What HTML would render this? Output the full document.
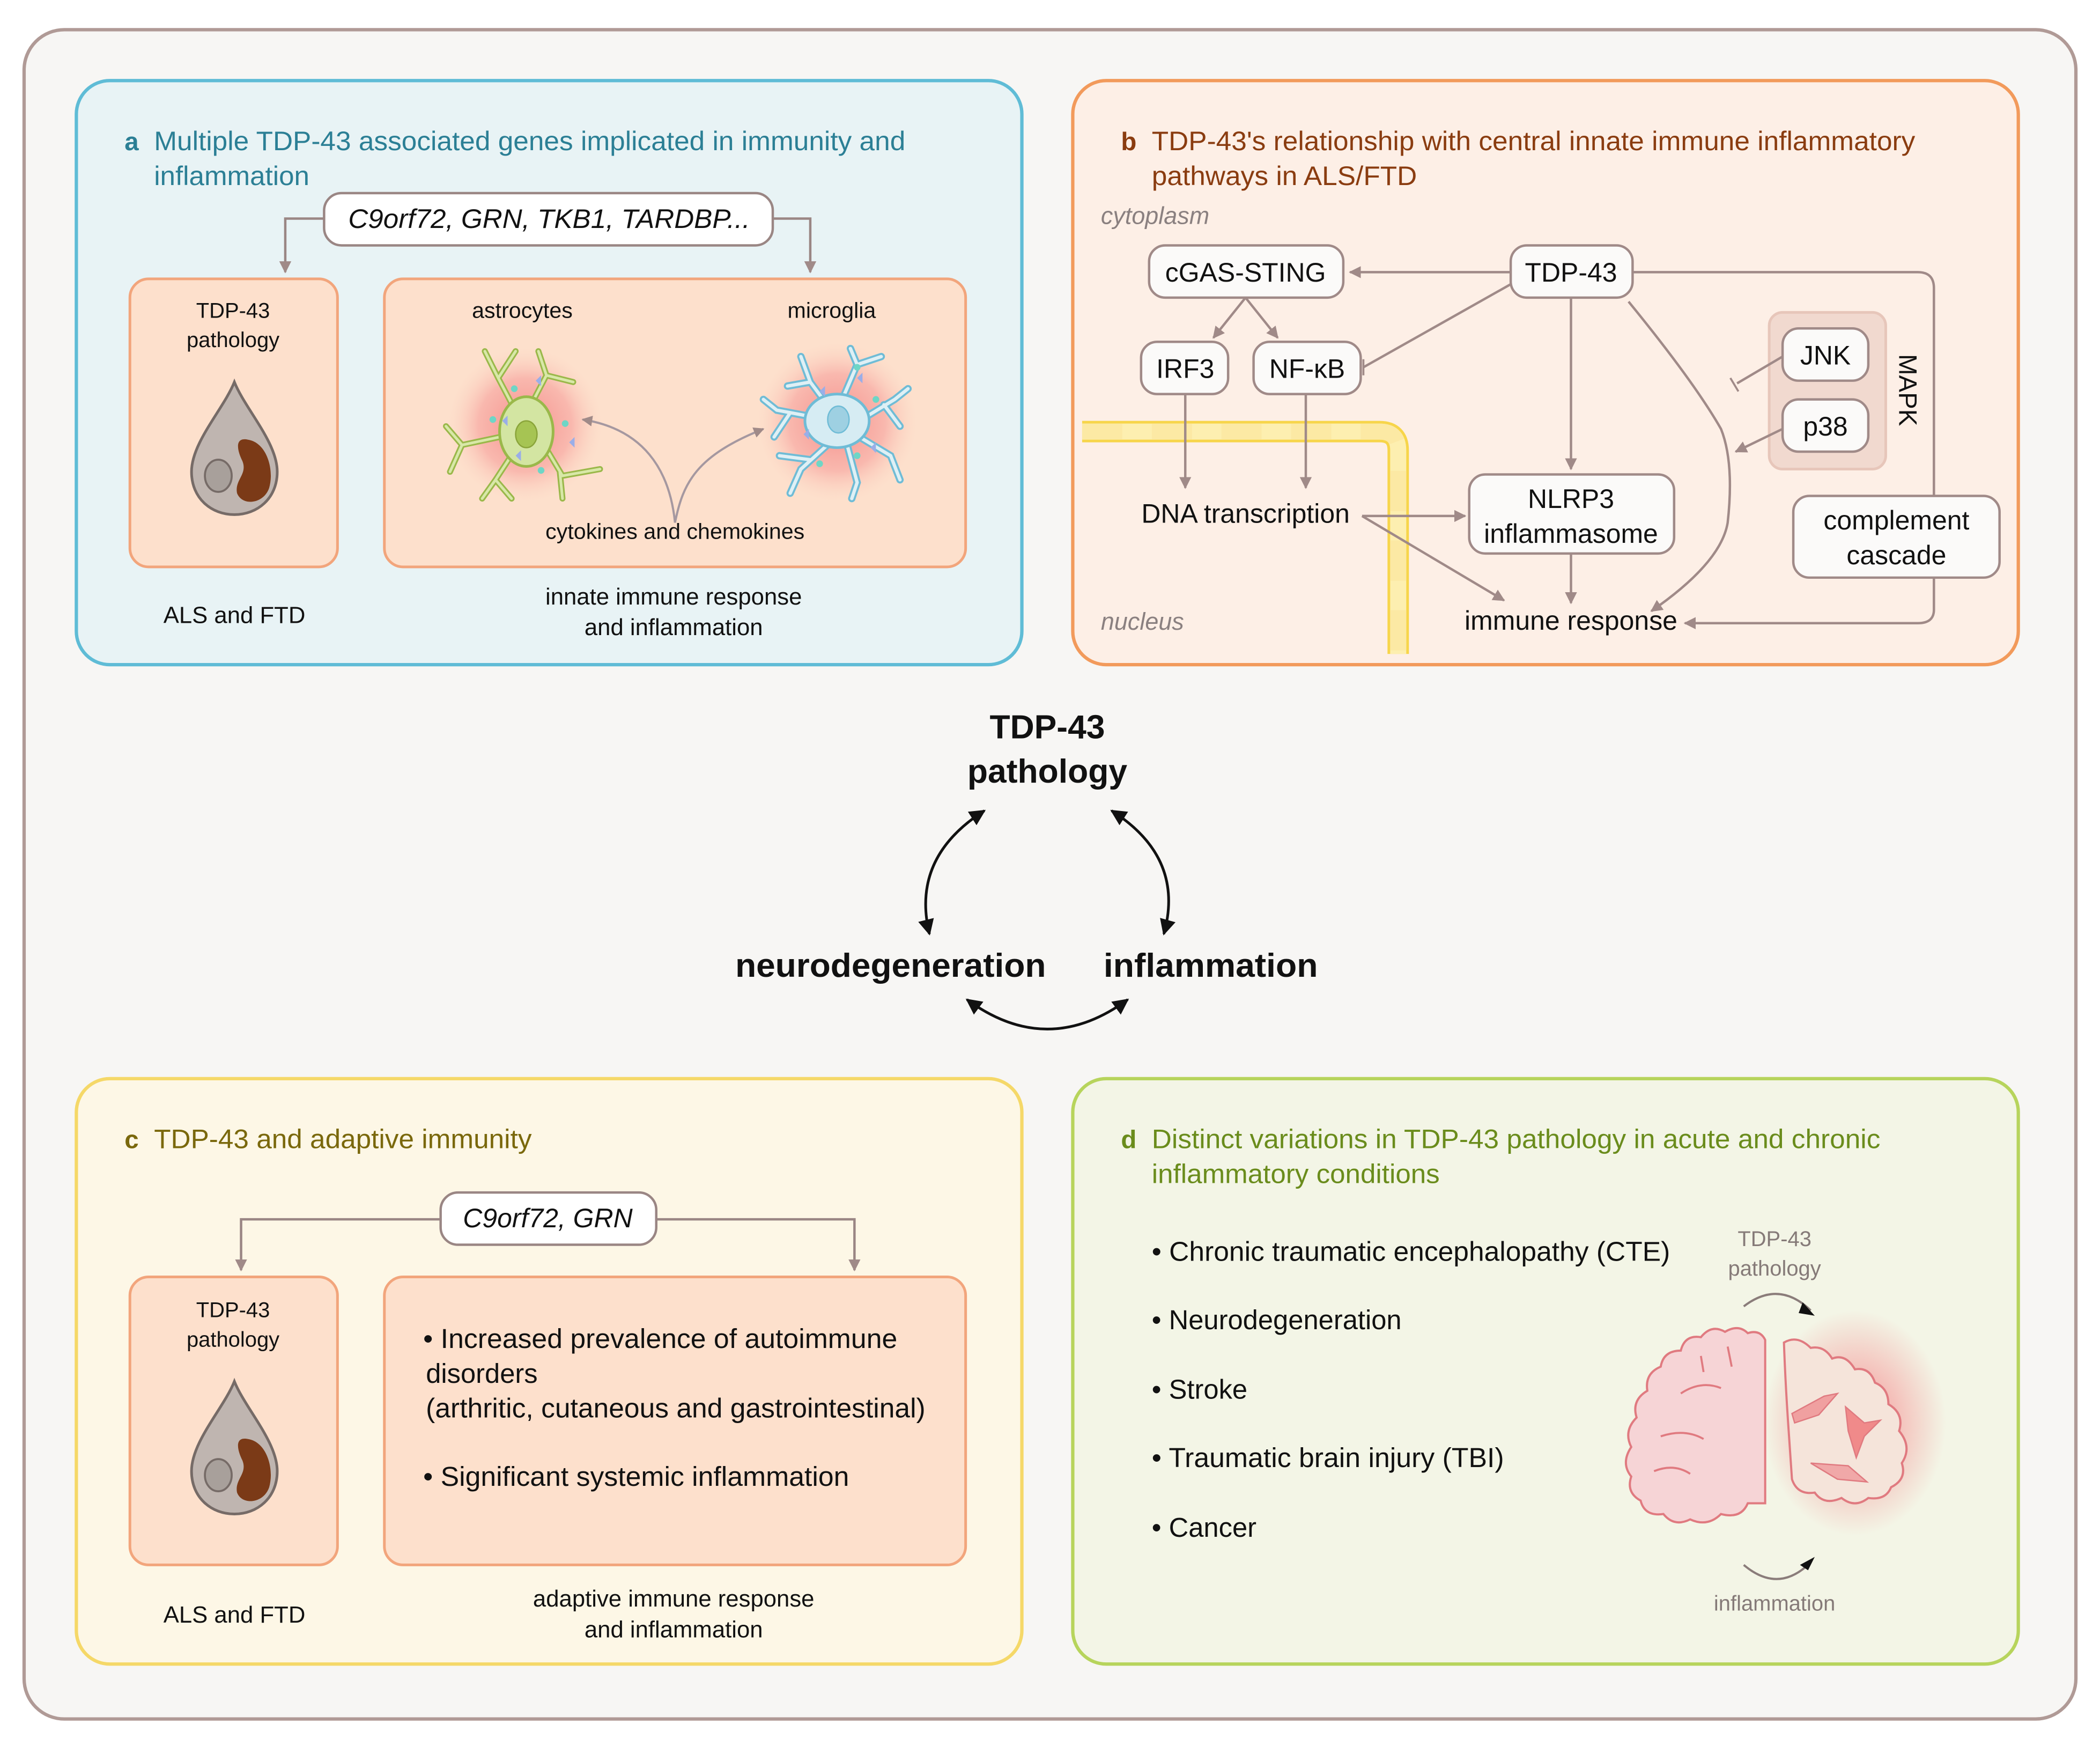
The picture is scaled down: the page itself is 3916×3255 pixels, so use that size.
<!DOCTYPE html>
<html><head><meta charset="utf-8"><style>
html,body{margin:0;padding:0;background:#fff;}
svg{display:block;}
text{font-family:"Liberation Sans",sans-serif;}
</style></head><body>
<svg width="3916" height="3255" viewBox="0 0 1568 1303" xmlns="http://www.w3.org/2000/svg">
<defs>
<marker id="ah" viewBox="0 0 10 10" refX="9" refY="5" markerWidth="5" markerHeight="5" orient="auto-start-reverse"><path d="M0,0 L10,5 L0,10 z" fill="#a08a88"/></marker>
<marker id="ak" viewBox="0 0 10 10" refX="9" refY="5" markerWidth="6" markerHeight="6" orient="auto-start-reverse"><path d="M0,0 L10,5 L0,10 z" fill="#111"/></marker>
<radialGradient id="glow"><stop offset="0" stop-color="#f27a7a" stop-opacity="0.8"/><stop offset="0.6" stop-color="#f59090" stop-opacity="0.5"/><stop offset="1" stop-color="#fbd0c0" stop-opacity="0"/></radialGradient>
<radialGradient id="glow2"><stop offset="0.4" stop-color="#f4a0a0" stop-opacity="0.7"/><stop offset="1" stop-color="#f4a0a0" stop-opacity="0"/></radialGradient>
</defs>
<rect x="0" y="0" width="1568" height="1303" fill="#fff"/>
<rect x="18" y="22" width="1532" height="1261" rx="30" fill="#f7f6f4" stroke="#b09a96" stroke-width="2.5"/>

<!-- Panel a -->
<rect x="57" y="60" width="706" height="436" rx="25" fill="#e8f3f5" stroke="#5fbcd6" stroke-width="2.5"/>
<text x="93" y="112" font-size="19" font-weight="bold" fill="#2b7f95">a</text>
<text x="115" y="112" font-size="20" fill="#2b7f95" textLength="561" lengthAdjust="spacingAndGlyphs">Multiple TDP-43 associated genes implicated in immunity and</text>
<text x="115" y="138" font-size="20" fill="#2b7f95" textLength="116" lengthAdjust="spacingAndGlyphs">inflammation</text>
<path d="M242,163 H213 V203" fill="none" stroke="#9a8684" stroke-width="1.8" marker-end="url(#ah)"/>
<path d="M577,163 H605 V203" fill="none" stroke="#9a8684" stroke-width="1.8" marker-end="url(#ah)"/>
<rect x="242" y="144" width="335" height="39" rx="13" fill="#fff" stroke="#9a8684" stroke-width="1.8"/>
<text x="410" y="170" font-size="20" font-style="italic" text-anchor="middle" fill="#111" textLength="300" lengthAdjust="spacingAndGlyphs">C9orf72, GRN, TKB1, TARDBP...</text>
<rect x="97" y="208" width="155" height="215" rx="14" fill="#fde0cc" stroke="#f2a57c" stroke-width="2"/>
<text x="174" y="237" font-size="16" text-anchor="middle" fill="#111">TDP-43</text>
<text x="174" y="259" font-size="16" text-anchor="middle" fill="#111">pathology</text>
<g transform="translate(175,340)">
<path d="M0,-55 C8,-35 32,-10 32,12 C32,32 17,44 0,44 C-17,44 -32,32 -32,12 C-32,-10 -8,-35 0,-55 z" fill="#bfb5b0" stroke="#766b67" stroke-width="2"/>
<ellipse cx="-12" cy="15" rx="10" ry="12" fill="#a8a09b" stroke="#766b67" stroke-width="1.5"/>
<path d="M10,-12 C24,-10 30,10 26,24 C22,36 6,38 2,28 C0,18 10,14 6,4 C2,-4 0,-14 10,-12 z" fill="#7b3a17"/>
</g>
<rect x="287" y="208" width="434" height="215" rx="14" fill="#fde0cc" stroke="#f2a57c" stroke-width="2"/>
<text x="390" y="237" font-size="16.5" text-anchor="middle" fill="#111">astrocytes</text>
<text x="621" y="237" font-size="16.5" text-anchor="middle" fill="#111">microglia</text>
<text x="504" y="402" font-size="16.5" text-anchor="middle" fill="#111">cytokines and chemokines</text>
<ellipse cx="392" cy="317" rx="58" ry="58" fill="url(#glow)"/>
<ellipse cx="625" cy="315" rx="60" ry="60" fill="url(#glow)"/>
<!-- astrocyte -->
<g stroke="#9ab84a" stroke-width="4.5" fill="none" stroke-linecap="round">
<path d="M392,320 L372,282 L362,262 M372,282 L385,262 M395,305 L408,280 L402,262 M408,280 L428,285 M405,330 L420,355 L448,350 M418,352 L420,372 M385,335 L370,358 L360,372 M370,358 L382,372 M378,325 L345,332 L333,318 M345,332 L336,352"/>
</g>
<g stroke="#d8e8a8" stroke-width="2" fill="none" stroke-linecap="round">
<path d="M392,320 L372,282 L362,262 M372,282 L385,262 M395,305 L408,280 L402,262 M408,280 L428,285 M405,330 L420,355 L448,350 M418,352 L420,372 M385,335 L370,358 L360,372 M370,358 L382,372 M378,325 L345,332 L333,318 M345,332 L336,352"/>
</g>
<ellipse cx="393" cy="322" rx="20" ry="26" fill="#d3e5a2" stroke="#9ab84a" stroke-width="2"/>
<ellipse cx="393" cy="324" rx="8" ry="10" fill="#a6c453" stroke="#8aa43a" stroke-width="1"/>
<!-- microglia -->
<g stroke="#6fbcd6" stroke-width="5.5" fill="none" stroke-linecap="round">
<path d="M625,312 L605,285 L598,266 M605,285 L588,288 M628,300 L640,272 L635,260 M640,272 L658,266 M640,315 L668,298 L678,290 M660,302 L672,318 M640,325 L665,340 L672,358 M632,330 L640,360 L636,372 M620,330 L598,350 L590,368 M605,343 L582,340 M612,312 L580,306 L570,298 M590,308 L578,326"/>
</g>
<g stroke="#dff0f5" stroke-width="2.5" fill="none" stroke-linecap="round">
<path d="M625,312 L605,285 L598,266 M605,285 L588,288 M628,300 L640,272 L635,260 M640,272 L658,266 M640,315 L668,298 L678,290 M660,302 L672,318 M640,325 L665,340 L672,358 M632,330 L640,360 L636,372 M620,330 L598,350 L590,368 M605,343 L582,340 M612,312 L580,306 L570,298 M590,308 L578,326"/>
</g>
<ellipse cx="625" cy="314" rx="24" ry="20" fill="#d6ecf3" stroke="#6fbcd6" stroke-width="2"/>
<ellipse cx="626" cy="313" rx="8" ry="10" fill="#9ed0e2" stroke="#6fbcd6" stroke-width="1"/>
<g fill="#6ed6c6"><circle cx="384" cy="290" r="2.5"/><circle cx="368" cy="313" r="2.5"/><circle cx="422" cy="316" r="2.5"/><circle cx="404" cy="351" r="2.5"/><circle cx="640" cy="274" r="2.5"/><circle cx="654" cy="298" r="2.5"/><circle cx="612" cy="346" r="2.5"/><circle cx="640" cy="340" r="2.5"/></g>
<g fill="#9aaee8"><path d="M400,284 l4,-4 l0,8z"/><path d="M375,314 l4,-4 l0,8z"/><path d="M425,330 l4,-4 l0,8z"/><path d="M385,340 l4,-4 l0,8z"/><path d="M640,282 l4,-4 l0,8z"/><path d="M612,292 l4,-4 l0,8z"/><path d="M600,324 l4,-4 l0,8z"/><path d="M650,334 l4,-4 l0,8z"/></g>
<path d="M504,390 C500,350 480,320 435,313" fill="none" stroke="#a598a0" stroke-width="1.6" marker-end="url(#ah)"/>
<path d="M504,390 C510,360 520,340 570,320" fill="none" stroke="#a598a0" stroke-width="1.6" marker-end="url(#ah)"/>
<text x="175" y="465" font-size="17.5" text-anchor="middle" fill="#111">ALS and FTD</text>
<text x="503" y="451" font-size="17.5" text-anchor="middle" fill="#111">innate immune response</text>
<text x="503" y="474" font-size="17.5" text-anchor="middle" fill="#111">and inflammation</text>

<!-- Panel b -->
<rect x="801" y="60" width="706" height="436" rx="25" fill="#fdefe6" stroke="#f29a5b" stroke-width="2.5"/>
<text x="837" y="112" font-size="19" font-weight="bold" fill="#8a3c10">b</text>
<text x="860" y="112" font-size="20" fill="#8a3c10" textLength="570" lengthAdjust="spacingAndGlyphs">TDP-43's relationship with central innate immune inflammatory</text>
<text x="860" y="138" font-size="20" fill="#8a3c10" textLength="198" lengthAdjust="spacingAndGlyphs">pathways in ALS/FTD</text>
<text x="822" y="167" font-size="18" font-style="italic" fill="#8a8080">cytoplasm</text>
<text x="822" y="470" font-size="18" font-style="italic" fill="#8a8080">nucleus</text>
<path d="M808,322 H1030 Q1044,322 1044,336 V488" fill="none" stroke="#f7d54a" stroke-width="16"/>
<path d="M808,322 H1030 Q1044,322 1044,336 V488" fill="none" stroke="#fdefb0" stroke-width="12"/>
<path d="M808,322 H1030 Q1044,322 1044,336 V488" fill="none" stroke="#fce9a4" stroke-width="12" stroke-dasharray="30,22"/>
<rect x="1321" y="233" width="87" height="117" rx="10" fill="#f1d9cf" stroke="#e7c6ba" stroke-width="2"/>
<text transform="translate(1418,291) rotate(90)" font-size="19" text-anchor="middle" fill="#111">MAPK</text>
<g fill="none" stroke="#a08a88" stroke-width="1.8">
<path d="M1128,203 H1008" marker-end="url(#ah)"/>
<path d="M930,222 L906,252" marker-end="url(#ah)"/>
<path d="M930,222 L954,252" marker-end="url(#ah)"/>
<path d="M1128,212 L1018,274"/>
<path d="M1018,268 L1018,280" stroke-width="1.5"/>
<path d="M1173,222 V350" marker-end="url(#ah)"/>
<path d="M1216,225 Q1265,285 1285,320 Q1295,345 1290,390 Q1285,420 1233,456" marker-end="url(#ah)"/>
<path d="M1219,203 H1432 Q1444,203 1444,215 V370"/>
<path d="M1444,431 V455 Q1444,465 1432,465 H1258" marker-end="url(#ah)"/>
<path d="M1331,266 L1297,286"/>
<path d="M1292,282 L1298,292" stroke-width="1.5"/>
<path d="M1331,320 L1296,337" marker-end="url(#ah)"/>
<path d="M885,294 V364" marker-end="url(#ah)"/>
<path d="M975,294 V364" marker-end="url(#ah)"/>
<path d="M1017,385 H1094" marker-end="url(#ah)"/>
<path d="M1017,385 L1123,448" marker-end="url(#ah)"/>
<path d="M1173,413 V450" marker-end="url(#ah)"/>
</g>
<g fill="#fbfaf9" stroke="#a08a88" stroke-width="1.8">
<rect x="858" y="183" width="145" height="39" rx="12"/>
<rect x="1128" y="183" width="91" height="39" rx="12"/>
<rect x="852" y="255" width="65" height="39" rx="12"/>
<rect x="936" y="255" width="80" height="39" rx="12"/>
<rect x="1331" y="245" width="64" height="39" rx="12"/>
<rect x="1331" y="298" width="64" height="39" rx="12"/>
<rect x="1097" y="354" width="153" height="59" rx="12"/>
<rect x="1339" y="370" width="154" height="61" rx="12"/>
</g>
<g font-size="20" text-anchor="middle" fill="#111">
<text x="930" y="210">cGAS-STING</text>
<text x="1173" y="210">TDP-43</text>
<text x="885" y="282">IRF3</text>
<text x="976" y="282">NF-κB</text>
<text x="1363" y="272">JNK</text>
<text x="1363" y="325">p38</text>
<text x="1173" y="379">NLRP3</text>
<text x="1173" y="405">inflammasome</text>
<text x="1416" y="395">complement</text>
<text x="1416" y="421">cascade</text>
<text x="930" y="390">DNA transcription</text>
<text x="1173" y="470">immune response</text>
</g>

<!-- Center cycle -->
<text x="782" y="551" font-size="25" font-weight="bold" text-anchor="middle" fill="#111">TDP-43</text>
<text x="782" y="584" font-size="25" font-weight="bold" text-anchor="middle" fill="#111">pathology</text>
<text x="665" y="729" font-size="25" font-weight="bold" text-anchor="middle" fill="#111" textLength="232" lengthAdjust="spacingAndGlyphs">neurodegeneration</text>
<text x="904" y="729" font-size="25" font-weight="bold" text-anchor="middle" fill="#111" textLength="160" lengthAdjust="spacingAndGlyphs">inflammation</text>
<g fill="none" stroke="#111" stroke-width="2">
<path d="M735,605 Q680,640 694,697" marker-start="url(#ak)" marker-end="url(#ak)"/>
<path d="M830,605 Q885,640 869,697" marker-start="url(#ak)" marker-end="url(#ak)"/>
<path d="M722,746 Q782,790 842,746" marker-start="url(#ak)" marker-end="url(#ak)"/>
</g>

<!-- Panel c -->
<rect x="57" y="805" width="706" height="437" rx="25" fill="#fdf7e6" stroke="#f5d868" stroke-width="2.5"/>
<text x="93" y="857" font-size="19" font-weight="bold" fill="#7a680c">c</text>
<text x="115" y="857" font-size="20" fill="#7a680c" textLength="282" lengthAdjust="spacingAndGlyphs">TDP-43 and adaptive immunity</text>
<path d="M329,910 H180 V948" fill="none" stroke="#9a8684" stroke-width="1.8" marker-end="url(#ah)"/>
<path d="M490,910 H638 V948" fill="none" stroke="#9a8684" stroke-width="1.8" marker-end="url(#ah)"/>
<rect x="329" y="890" width="161" height="39" rx="13" fill="#fff" stroke="#9a8684" stroke-width="1.8"/>
<text x="409" y="916" font-size="20" font-style="italic" text-anchor="middle" fill="#111">C9orf72, GRN</text>
<rect x="97" y="953" width="155" height="215" rx="14" fill="#fde0cc" stroke="#f2a57c" stroke-width="2"/>
<text x="174" y="983" font-size="16" text-anchor="middle" fill="#111">TDP-43</text>
<text x="174" y="1005" font-size="16" text-anchor="middle" fill="#111">pathology</text>
<g transform="translate(175,1086)">
<path d="M0,-55 C8,-35 32,-10 32,12 C32,32 17,44 0,44 C-17,44 -32,32 -32,12 C-32,-10 -8,-35 0,-55 z" fill="#bfb5b0" stroke="#766b67" stroke-width="2"/>
<ellipse cx="-12" cy="15" rx="10" ry="12" fill="#a8a09b" stroke="#766b67" stroke-width="1.5"/>
<path d="M10,-12 C24,-10 30,10 26,24 C22,36 6,38 2,28 C0,18 10,14 6,4 C2,-4 0,-14 10,-12 z" fill="#7b3a17"/>
</g>
<rect x="287" y="953" width="434" height="215" rx="14" fill="#fde0cc" stroke="#f2a57c" stroke-width="2"/>
<g font-size="20.3" fill="#111">
<text x="316" y="1006" textLength="354" lengthAdjust="spacingAndGlyphs">• Increased prevalence of autoimmune</text>
<text x="318" y="1032">disorders</text>
<text x="318" y="1058" textLength="373" lengthAdjust="spacingAndGlyphs">(arthritic, cutaneous and gastrointestinal)</text>
<text x="316" y="1109" textLength="318" lengthAdjust="spacingAndGlyphs">• Significant systemic inflammation</text>
</g>
<text x="175" y="1211" font-size="17.5" text-anchor="middle" fill="#111">ALS and FTD</text>
<text x="503" y="1199" font-size="17.5" text-anchor="middle" fill="#111">adaptive immune response</text>
<text x="503" y="1222" font-size="17.5" text-anchor="middle" fill="#111">and inflammation</text>

<!-- Panel d -->
<rect x="801" y="805" width="706" height="437" rx="25" fill="#f3f5e6" stroke="#b7d45c" stroke-width="2.5"/>
<text x="837" y="857" font-size="19" font-weight="bold" fill="#6a8c1c">d</text>
<text x="860" y="857" font-size="20" fill="#6a8c1c" textLength="544" lengthAdjust="spacingAndGlyphs">Distinct variations in TDP-43 pathology in acute and chronic</text>
<text x="860" y="883" font-size="20" fill="#6a8c1c" textLength="215" lengthAdjust="spacingAndGlyphs">inflammatory conditions</text>
<g font-size="20.3" fill="#111">
<text x="860" y="941" textLength="387" lengthAdjust="spacingAndGlyphs">• Chronic traumatic encephalopathy (CTE)</text>
<text x="860" y="992">• Neurodegeneration</text>
<text x="860" y="1044">• Stroke</text>
<text x="860" y="1095" textLength="263" lengthAdjust="spacingAndGlyphs">• Traumatic brain injury (TBI)</text>
<text x="860" y="1147">• Cancer</text>
</g>
<text x="1325" y="930" font-size="16" text-anchor="middle" fill="#857a78">TDP-43</text>
<text x="1325" y="952" font-size="16" text-anchor="middle" fill="#857a78">pathology</text>
<text x="1325" y="1202" font-size="16" text-anchor="middle" fill="#857a78">inflammation</text>
<path d="M1302,975 Q1328,955 1352,978" fill="none" stroke="#8a7c7a" stroke-width="1.6"/>
<path d="M1346,972 L1355,982 L1343,980 z" fill="#111"/>
<path d="M1302,1168 Q1328,1190 1352,1166" fill="none" stroke="#8a7c7a" stroke-width="1.6"/>
<path d="M1344,1168 L1355,1162 L1350,1172 z" fill="#111"/>
<ellipse cx="1385" cy="1062" rx="68" ry="84" fill="url(#glow2)"/>
<path d="M1318,1000 Q1314,992 1305,995 Q1298,988 1288,994 Q1278,988 1270,998 Q1258,996 1255,1008 Q1242,1008 1240,1020 Q1228,1025 1230,1038 Q1218,1045 1222,1058 Q1212,1068 1218,1080 Q1210,1092 1218,1102 Q1214,1114 1225,1120 Q1228,1132 1242,1130 Q1250,1140 1262,1134 Q1275,1140 1285,1130 Q1300,1134 1305,1122 L1318,1122 z" fill="#f6d4d6" stroke="#e07a80" stroke-width="1.6"/>
<path d="M1255,1040 Q1270,1030 1285,1036 M1240,1072 Q1258,1066 1272,1074 M1235,1098 Q1250,1092 1262,1100 M1290,1005 L1293,1020 M1270,1012 L1272,1024" fill="none" stroke="#e07a80" stroke-width="1.5"/>
<path d="M1332,1002 Q1342,996 1352,1006 Q1362,1004 1368,1014 Q1378,1010 1385,1022 Q1396,1020 1400,1032 Q1410,1036 1410,1048 Q1422,1055 1418,1068 Q1428,1080 1420,1092 Q1424,1104 1412,1110 Q1408,1120 1395,1118 Q1385,1126 1375,1118 Q1362,1124 1355,1114 Q1342,1116 1338,1104 L1335,1060 Q1333,1030 1332,1002 z" fill="#f5e4da" stroke="#e07a80" stroke-width="1.6"/>
<path d="M1338,1055 L1362,1042 L1372,1040 L1358,1056 L1340,1062 z" fill="#f0a0a0" stroke="#e07a80" stroke-width="1"/>
<path d="M1378,1050 L1392,1062 L1404,1060 L1392,1072 L1386,1088 L1380,1068 z" fill="#f08a8a" stroke="#e07a80" stroke-width="1"/>
<path d="M1352,1092 L1380,1094 L1394,1106 L1372,1104 z" fill="#f0a8a8" stroke="#e07a80" stroke-width="1"/>
</svg>
</body></html>
